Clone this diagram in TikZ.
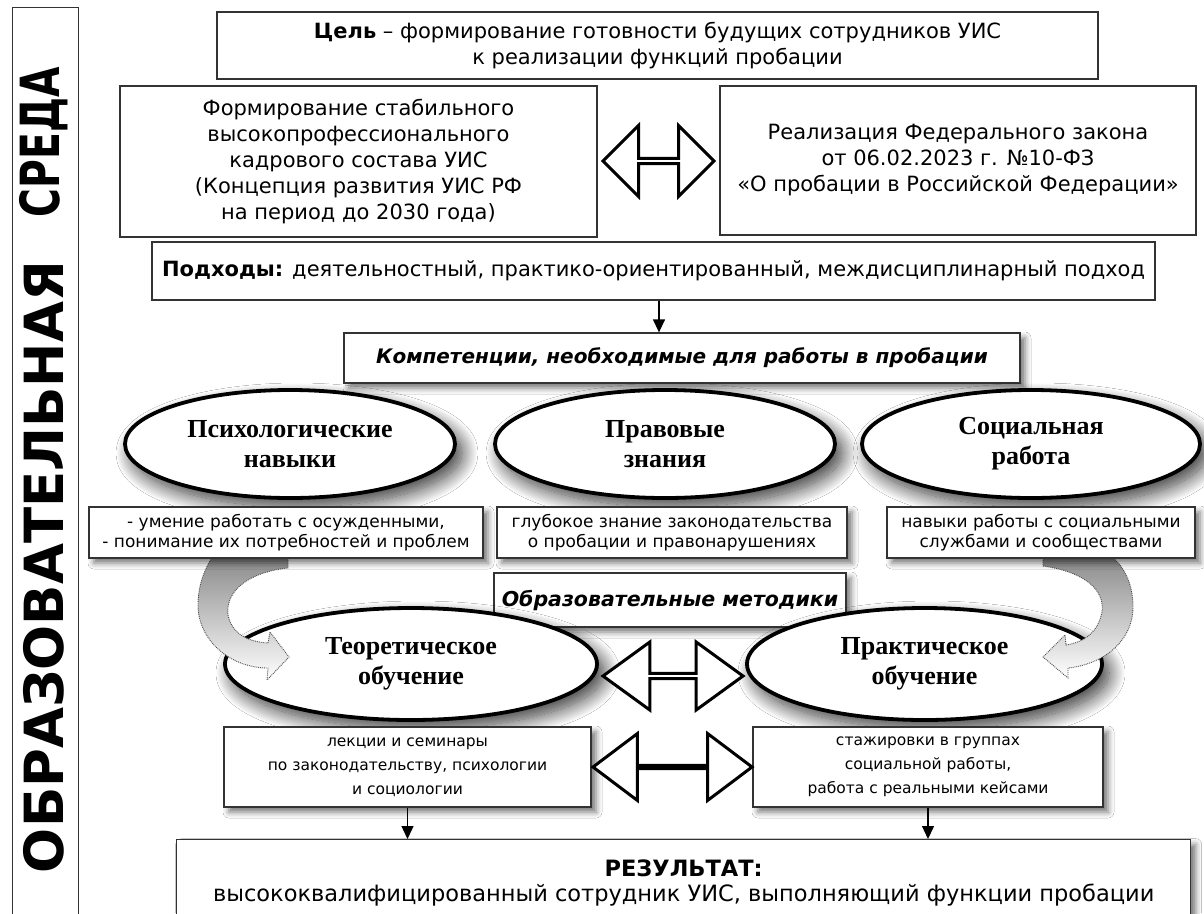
\documentclass[tikz,border=0pt]{standalone}
\usepackage{fontspec}
\setmainfont{DejaVu Sans}
\newfontfamily\ellfont{Liberation Serif}
\usetikzlibrary{shapes.geometric,shapes.arrows,shadows.blur,arrows.meta}
\tikzset{
  box/.style={draw=black!80, line width=1.3pt, fill=white, inner sep=2pt, align=center},
  shbox/.style={box, blur shadow={shadow xshift=5pt, shadow yshift=-5pt, shadow blur radius=6pt, shadow opacity=55}},
  ell/.style={ellipse, draw=black, line width=3.8pt, fill=white, inner sep=0pt, align=center,
    font=\ellfont\bfseries\fontsize{26}{30}\selectfont,
    blur shadow={shadow xshift=7pt, shadow yshift=-9pt, shadow blur radius=16pt, shadow opacity=80, shadow blur steps=24}},
  hollow/.style={double arrow, draw=black, line width=3pt, fill=white, inner sep=0pt},
  arr/.style={-{Triangle[length=13pt,width=12pt]}, line width=1.3pt},
  curv/.style={draw=black!70, densely dotted, line width=0.9pt, top color=black!45, bottom color=white},
  big/.style={font=\fontsize{21}{26}\selectfont},
  small/.style={font=\fontsize{17}{20}\selectfont},
  smaller/.style={font=\fontsize{15.5}{24}\selectfont},
  sidetxt/.style={rotate=90, inner sep=0pt, font=\fontsize{54}{54}\selectfont\bfseries},
}
\begin{document}
\begin{tikzpicture}[x=1pt,y=-1pt]
\useasboundingbox[fill=white] (0,0) rectangle (1204,913);
% side column
\node[draw=black!80, line width=1.3pt, minimum width=66, minimum height=930, anchor=north west, inner sep=0pt] (side) at (12,7) {};
\node[sidetxt] (sreda) at (44,142) {\resizebox{150pt}{\height}{СРЕДА}};
\node[sidetxt] (obraz) at (44,567) {\resizebox{612pt}{\height}{ОБРАЗОВАТЕЛЬНАЯ}};
% top
\node[box, big, minimum width=881, minimum height=67] (goal) at (657.5,45.5)
  {\textbf{Цель} – формирование готовности будущих сотрудников УИС\\к реализации функций пробации};
\node[box, big, minimum width=477, minimum height=151] (left) at (358.5,161.5)
  {Формирование стабильного\\высокопрофессионального\\кадрового состава УИС\\(Концепция развития УИС РФ\\на период до 2030 года)};
\node[box, big, minimum width=476, minimum height=149] (right) at (958,160.5)
  {Реализация Федерального закона\\от 06.02.2023 г. №10-ФЗ\\«О пробации в Российской Федерации»};
\node[hollow, minimum height=111, minimum width=71, double arrow head extend=18pt, double arrow tip angle=90] (da1) at (658.5,161) {};
\node[box, big, minimum width=1003, minimum height=58] (app) at (653.5,271)
  {\textbf{Подходы:} деятельностный, практико-ориентированный, междисциплинарный подход};
% competences
\node[shbox, font=\fontsize{20}{24}\selectfont, minimum width=676, minimum height=50] (komp) at (682,358)
  {\textbf{\textit{Компетенции, необходимые для работы в пробации}}};
\coordinate (ax) at (659,0);
\draw[arr] (app.south -| ax) -- (komp.north -| ax);
\node[ell, minimum width=330, minimum height=108] (e1) at (290,444) {Психологические\\навыки};
\node[ell, minimum width=340, minimum height=108] (e2) at (665,444) {Правовые\\знания};
\node[ell, minimum width=338, minimum height=108] (e3) at (1031,444) {Социальная\\работа};
% methods
\node[shbox, font=\fontsize{20.5}{24}\selectfont, minimum width=352, minimum height=54] (met) at (670,600)
  {\textbf{\textit{Образовательные методики}}};
\node[ell, minimum width=372, minimum height=112] (teor) at (411,664) {Теоретическое\\обучение};
\node[ell, minimum width=355, minimum height=112] (prak) at (924.5,664) {Практическое\\обучение};
\node[hollow, minimum height=140, minimum width=68, double arrow head extend=18pt, double arrow tip angle=72] (da2) at (673,676) {};
% curved arrows
\path[curv] (212,558) -- (288,558) -- (288,568)
  .. controls (250,572) and (225,590) .. (228,615)
  .. controls (232,635) and (250,642) .. (268,643) -- (270,632) -- (289,657) -- (267,680) -- (268,668)
  .. controls (230,668) and (198,640) .. (198,605)
  .. controls (198,585) and (205,568) .. (212,558) -- cycle;
\path[curv] (1113,558) -- (1043,558) -- (1043,566)
  .. controls (1085,572) and (1105,590) .. (1102,612)
  .. controls (1098,632) and (1085,642) .. (1066,645) -- (1065,635) -- (1043,657) -- (1068,678) -- (1068,668)
  .. controls (1105,664) and (1133,640) .. (1133,607)
  .. controls (1133,585) and (1125,568) .. (1113,558) -- cycle;
% competence boxes
\node[shbox, small, minimum width=394, minimum height=51] (ba) at (286,532.5)
  {- умение работать с осужденными,\\- понимание их потребностей и проблем};
\node[shbox, small, minimum width=350, minimum height=51] (bb) at (672,532.5)
  {глубокое знание законодательства\\о пробации и правонарушениях};
\node[shbox, small, minimum width=308, minimum height=51] (bc) at (1041,532.5)
  {навыки работы с социальными\\службами и сообществами};
% methods boxes
\node[shbox, smaller, minimum width=367, minimum height=80] (lek) at (407.5,767)
  {лекции и семинары\\по законодательству, психологии\\и социологии};
\node[shbox, smaller, minimum width=350, minimum height=80] (staj) at (928,767)
  {стажировки в группах\\социальной работы,\\работа с реальными кейсами};
\node[hollow, minimum height=159, minimum width=67, double arrow head extend=31pt, double arrow tip angle=74] (da3) at (672.5,767) {};
% result
\node[shbox, font=\fontsize{22.5}{25}\selectfont, minimum width=1014, minimum height=86, anchor=north west] (res) at (176,839)
  {\textbf{РЕЗУЛЬТАТ:}\\высококвалифицированный сотрудник УИС, выполняющий функции пробации};
\draw[arr] (lek.south) -- (lek.south |- res.north);
\draw[arr] (staj.south) -- (staj.south |- res.north);
\end{tikzpicture}
\end{document}
